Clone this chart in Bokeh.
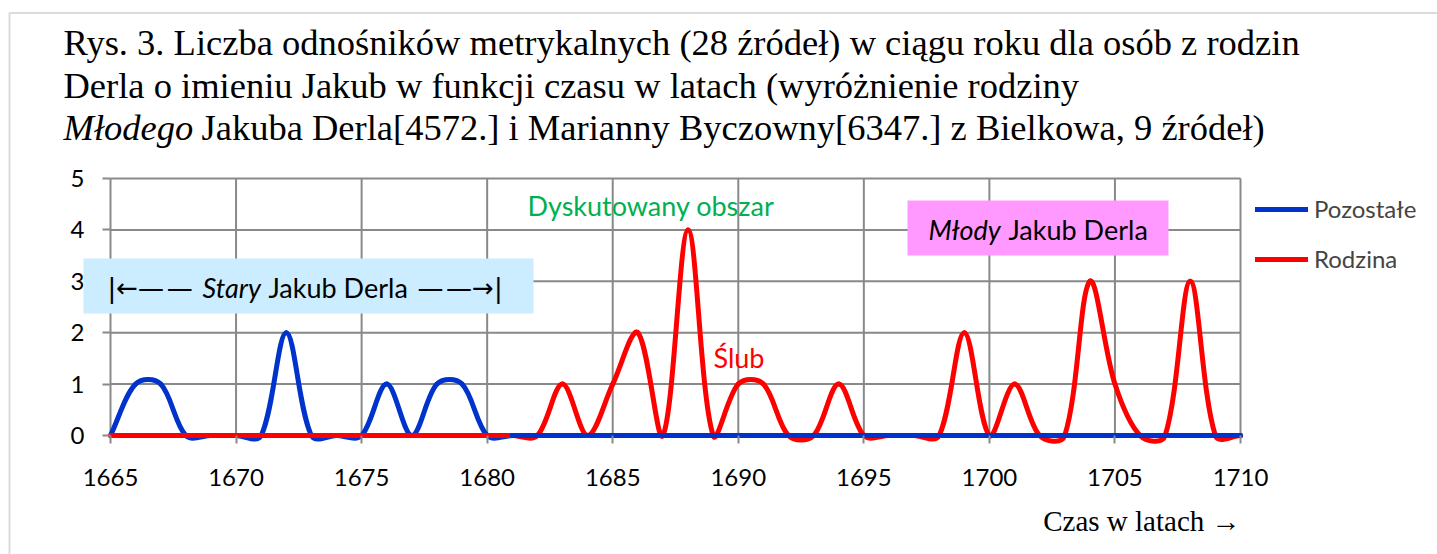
from bokeh.plotting import figure
from bokeh.models import Range1d, Label, BoxAnnotation, Legend, LegendItem, FixedTicker, ColumnDataSource
from bokeh.embed import file_html
from bokeh.resources import INLINE

# ---------------- data ----------------
years = list(range(1665, 1711))
pozostale = [0, 1, 1, 0, 0, 0, 0, 2, 0, 0, 0, 1, 0, 1, 1, 0,
             0, 0, 0, 0, 0, 0, 0, 0, 0, 0, 0, 0, 0, 0, 0, 0, 0, 0, 0, 0, 0, 0, 0, 0, 0, 0, 0, 0, 0, 0]
rodzina = [0, 0, 0, 0, 0, 0, 0, 0, 0, 0, 0, 0, 0, 0, 0, 0, 0, 0,
           1, 0, 1, 2, 0, 4, 0, 1, 1, 0, 0, 1, 0, 0, 0, 0, 2, 0, 1, 0, 0, 3, 1, 0, 0, 3, 0, 0]
x_ticks = [1665, 1670, 1675, 1680, 1685, 1690, 1695, 1700, 1705, 1710]
y_ticks = [0, 1, 2, 3, 4, 5]

title_lines = [
    "Rys. 3. Liczba odnośników metrykalnych (28 źródeł) w ciągu roku dla osób z rodzin",
    "Derla o imieniu Jakub w funkcji czasu w latach (wyróżnienie rodziny",
]
title_line3_italic = "Młodego"
title_line3_rest = "Jakuba Derla[4572.] i Marianny Byczowny[6347.] z Bielkowa, 9 źródeł)"
series_names = ["Pozostałe", "Rodzina"]
x_label = "Czas w latach →"

# ---------------- layout (page px) ----------------
W, H = 1437, 554
PX_YEAR = (1240 - 110) / 45.0
PX_UNIT = (435 - 178) / 5.0
X0_PX, Y0_PX = 110, 435          # where (1665, 0) sits on the page

def sx(px):
    return px

def sy(py):
    return H - py

# ---------------- smoothing (Excel-like bezier) ----------------
def bezier_source(xs, ys, x_min=None, yscale=0.75):
    n = len(xs)
    P = [(x * PX_YEAR, y * PX_UNIT) for x, y in zip(xs, ys)]
    cin, cout = [], []
    for i in range(n):
        pv = P[max(i - 1, 0)]
        nx = P[min(i + 1, n - 1)]
        tx, ty = nx[0] - pv[0], nx[1] - pv[1]
        lp = ((P[i][0] - pv[0]) ** 2 + (yscale * (P[i][1] - pv[1])) ** 2) ** 0.5
        ln = ((nx[0] - P[i][0]) ** 2 + (yscale * (nx[1] - P[i][1])) ** 2) ** 0.5
        s = lp + ln if lp + ln > 0 else 1.0
        cout.append((P[i][0] + tx * ln / s / 3, P[i][1] + ty * ln / s / 3))
        cin.append((P[i][0] - tx * lp / s / 3, P[i][1] - ty * lp / s / 3))
    d = dict(x0=[], y0=[], x1=[], y1=[], cx0=[], cy0=[], cx1=[], cy1=[])
    for i in range(n - 1):
        if x_min is not None and xs[i] < x_min:
            continue
        d["x0"].append(xs[i]); d["y0"].append(ys[i])
        d["x1"].append(xs[i + 1]); d["y1"].append(ys[i + 1])
        d["cx0"].append(cout[i][0] / PX_YEAR); d["cy0"].append(cout[i][1] / PX_UNIT)
        d["cx1"].append(cin[i + 1][0] / PX_YEAR); d["cy1"].append(cin[i + 1][1] / PX_UNIT)
    return ColumnDataSource(d)

BLUE = "#0033CC"
RED = "#FF0000"
GRID = "#898989"
SANS = "Lato"
SERIF = "Liberation Serif"

x_start = 1665 - X0_PX / PX_YEAR
y_start = -(H - Y0_PX) / PX_UNIT
p = figure(width=W, height=H, output_backend="svg", toolbar_location=None,
           x_range=Range1d(x_start, x_start + W / PX_YEAR),
           y_range=Range1d(y_start, y_start + H / PX_UNIT),
           min_border=0)
p.outline_line_color = None
p.background_fill_color = "white"
p.border_fill_color = "white"
p.xgrid.visible = False
p.ygrid.visible = False

p.xaxis.fixed_location = 0
p.yaxis.fixed_location = 1665
for ax, ticks in ((p.xaxis, x_ticks), (p.yaxis, y_ticks)):
    ax.ticker = FixedTicker(ticks=ticks)
    ax.axis_line_color = None
    ax.major_tick_line_color = GRID
    ax.major_tick_line_width = 2
    ax.major_tick_in = 0
    ax.major_tick_out = 8
    ax.minor_tick_line_color = None
    ax.major_label_text_font = SANS
    ax.major_label_text_font_size = "24px"
    ax.major_label_text_color = "black"
p.xaxis.major_label_standoff = 25
p.yaxis.major_label_standoff = 18

# gridlines (Excel style: only inside the 1665..1710 x 0..5 box)
p.segment(x0=x_ticks, y0=[y_ticks[0]] * len(x_ticks), x1=x_ticks, y1=[y_ticks[-1]] * len(x_ticks),
          line_color=GRID, line_width=2)
p.segment(x0=[x_ticks[0]] * len(y_ticks), y0=y_ticks, x1=[x_ticks[-1]] * len(y_ticks), y1=y_ticks,
          line_color=GRID, line_width=2)

blue_r = p.bezier(x0="x0", y0="y0", x1="x1", y1="y1", cx0="cx0", cy0="cy0", cx1="cx1", cy1="cy1",
                  source=bezier_source(years, pozostale), line_color=BLUE, line_width=5, line_cap="round")
red_r = p.bezier(x0="x0", y0="y0", x1="x1", y1="y1", cx0="cx0", cy0="cy0", cx1="cx1", cy1="cy1",
                 source=bezier_source(years, rodzina), line_color=RED, line_width=5, line_cap="round")
p.bezier(x0="x0", y0="y0", x1="x1", y1="y1", cx0="cx0", cy0="cy0", cx1="cx1", cy1="cy1",
         source=bezier_source(years, pozostale, x_min=1681), line_color=BLUE, line_width=5, line_cap="round")

legend = Legend(items=[LegendItem(label=series_names[0], renderers=[blue_r]),
                       LegendItem(label=series_names[1], renderers=[red_r])],
                location=(sx(1255), sy(273)), padding=0, margin=0, spacing=21,
                glyph_width=53, glyph_height=24, label_height=24, label_standoff=6,
                label_text_font=SANS, label_text_font_size="24px",
                border_line_color=None, background_fill_alpha=0)
p.add_layout(legend)

def box(l, r, t, b, **kw):
    p.add_layout(BoxAnnotation(left=sx(l), right=sx(r), top=sy(t), bottom=sy(b),
                               left_units="screen", right_units="screen",
                               top_units="screen", bottom_units="screen", **kw))

# outer frame of the whole chart
box(9, 3000, 12.5, 3000, fill_alpha=0, line_color=GRID, line_width=2)
# coloured boxes
box(83, 533, 258, 313, fill_color="#CCECFF", fill_alpha=1, line_color=None)
box(907, 1168, 200, 255, fill_color="#FF99FF", fill_alpha=1, line_color=None)

def lab(text, px, py, font=SANS, size="27px", style="normal", color="black", align="left", baseline="middle"):
    p.add_layout(Label(x=sx(px), y=sy(py), x_units="screen", y_units="screen", text=text,
                       text_font=font, text_font_size=size, text_font_style=style,
                       text_color=color, text_align=align, text_baseline=baseline))

# title
TS = "36.5px"
lab(title_lines[0], 63, 42, font=SERIF, size=TS)
lab(title_lines[1], 63, 85, font=SERIF, size=TS)
lab(title_line3_italic, 63, 127, font=SERIF, size=TS, style="italic")
lab(title_line3_rest, 201, 127, font=SERIF, size=TS)

# annotations
lab("|←—\u200a—", 107, 287, font="DejaVu Sans", size="26px")
lab("Stary", 202, 287, style="italic")
lab("Jakub Derla", 268, 287)
lab("—\u200a—→|", 417, 287, font="DejaVu Sans", size="26px")
lab("Młody", 928, 229, style="italic")
lab("Jakub Derla", 1008, 229)
lab("Dyskutowany obszar", 527, 205, color="#00B050")
lab("Ślub", 713, 357, color=RED)

# x axis title
lab(x_label, 1240, 520, font=SERIF, size="29px", align="right")

open("out.html", "w").write(file_html(p, INLINE))
